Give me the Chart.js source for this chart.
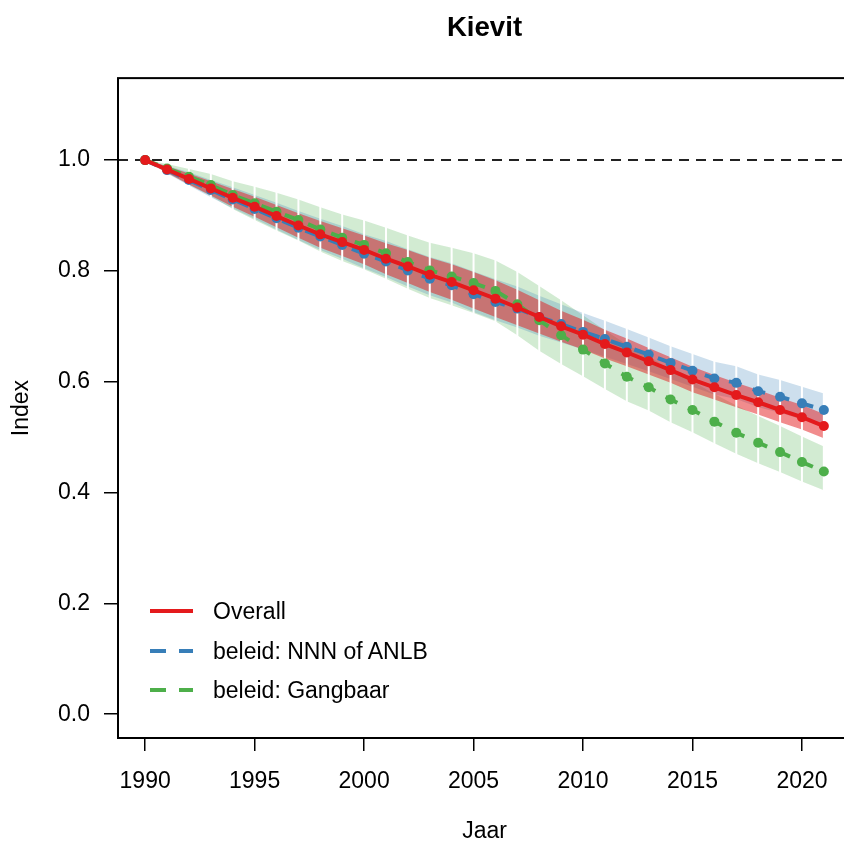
<!DOCTYPE html>
<html>
<head>
<meta charset="utf-8">
<script src="https://cdn.jsdelivr.net/npm/chart.js@4.4.0/dist/chart.umd.min.js"></script>
<style>
  html, body { margin: 0; padding: 0; background: #fff; }
  #wrap { position: relative; width: 844px; height: 845px; overflow: hidden; }
  #chart { position: absolute; left: 0; top: 0; }
  .lg { position: absolute; left: 0; width: 500px; height: 28px; font: 23px "Liberation Sans", Arial, sans-serif; color: #000; }
  .lg svg { position: absolute; left: 150px; top: 10px; }
  .lg span { position: absolute; left: 213px; top: 0; line-height: 28px; white-space: nowrap; }
</style>
</head>
<body>
<div id="wrap">
  <canvas id="chart" width="856" height="845"></canvas>
</div>
<script>
// jaren en indexwaarden
const years = [1990, 1991, 1992, 1993, 1994, 1995, 1996, 1997, 1998, 1999, 2000,
  2001, 2002, 2003, 2004, 2005, 2006, 2007, 2008, 2009, 2010,
  2011, 2012, 2013, 2014, 2015, 2016, 2017, 2018, 2019, 2020, 2021];

const overall = [1.000, 0.983, 0.966, 0.949, 0.932, 0.916, 0.899, 0.882, 0.866, 0.852, 0.838,
  0.822, 0.808, 0.793, 0.780, 0.765, 0.750, 0.734, 0.717, 0.700, 0.685,
  0.668, 0.653, 0.637, 0.621, 0.604, 0.590, 0.576, 0.563, 0.549, 0.536, 0.520];
const overallHi = [1.000, 0.989, 0.976, 0.962, 0.948, 0.934, 0.919, 0.904, 0.890, 0.877, 0.864,
  0.850, 0.838, 0.824, 0.812, 0.798, 0.783, 0.766, 0.747, 0.728, 0.712,
  0.694, 0.678, 0.661, 0.644, 0.627, 0.612, 0.598, 0.585, 0.571, 0.558, 0.542];
const overallLo = [1.000, 0.977, 0.956, 0.936, 0.916, 0.898, 0.879, 0.860, 0.842, 0.827, 0.812,
  0.794, 0.778, 0.762, 0.748, 0.732, 0.717, 0.702, 0.687, 0.672, 0.658,
  0.642, 0.628, 0.613, 0.598, 0.581, 0.568, 0.554, 0.541, 0.527, 0.514, 0.498];

const nnn = [1.000, 0.982, 0.964, 0.946, 0.929, 0.912, 0.895, 0.878, 0.862, 0.847, 0.831,
  0.817, 0.801, 0.786, 0.774, 0.758, 0.744, 0.732, 0.717, 0.704, 0.690,
  0.677, 0.663, 0.649, 0.634, 0.620, 0.606, 0.598, 0.583, 0.573, 0.561, 0.549];
const nnnHi = [1.000, 0.990, 0.978, 0.964, 0.951, 0.937, 0.923, 0.908, 0.894, 0.881, 0.866,
  0.854, 0.839, 0.825, 0.814, 0.799, 0.785, 0.772, 0.755, 0.740, 0.724,
  0.710, 0.695, 0.680, 0.664, 0.650, 0.636, 0.628, 0.613, 0.603, 0.591, 0.579];
const nnnLo = [1.000, 0.976, 0.954, 0.933, 0.913, 0.894, 0.875, 0.856, 0.838, 0.822, 0.805,
  0.789, 0.772, 0.756, 0.743, 0.726, 0.711, 0.698, 0.683, 0.671, 0.658,
  0.645, 0.632, 0.619, 0.605, 0.591, 0.577, 0.569, 0.554, 0.544, 0.532, 0.520];

const gangbaar = [1.000, 0.985, 0.970, 0.955, 0.937, 0.922, 0.907, 0.892, 0.875, 0.860, 0.847,
  0.832, 0.816, 0.801, 0.790, 0.778, 0.764, 0.740, 0.711, 0.684, 0.658,
  0.633, 0.609, 0.590, 0.568, 0.549, 0.528, 0.508, 0.490, 0.473, 0.455, 0.438];
const gangbaarHi = [1.000, 0.993, 0.984, 0.975, 0.962, 0.952, 0.941, 0.929, 0.915, 0.902, 0.891,
  0.878, 0.864, 0.851, 0.842, 0.832, 0.819, 0.798, 0.773, 0.747, 0.720,
  0.693, 0.667, 0.646, 0.622, 0.601, 0.578, 0.557, 0.538, 0.520, 0.501, 0.483];
const gangbaarLo = [1.000, 0.977, 0.956, 0.935, 0.912, 0.892, 0.873, 0.855, 0.835, 0.818, 0.803,
  0.786, 0.768, 0.751, 0.738, 0.724, 0.709, 0.684, 0.656, 0.632, 0.610,
  0.587, 0.565, 0.548, 0.527, 0.509, 0.489, 0.470, 0.453, 0.437, 0.420, 0.404];

const xTicks = [1990, 1995, 2000, 2005, 2010, 2015, 2020];
const yTicks = [0.0, 0.2, 0.4, 0.6, 0.8, 1.0];
const xMin = 1988.76, xMax = 2022.24;
const yMin = -0.043, yMax = 1.148;
const refValue = 1.0;

const legendLabels = ['Overall', 'beleid: NNN of ANLB', 'beleid: Gangbaar'];

const RED = '#E41A1C', BLUE = '#377EB8', GREEN = '#4DAF4A';
const FONT = '"Liberation Sans", Arial, sans-serif';

Chart.defaults.font.family = FONT;
Chart.defaults.color = '#000';

function pts(vals) {
    return years.map((y, i) => ({ x: y, y: vals[i] }));
}

function seriesLine(label, vals, color, dash) {
    return {
        label: label, data: pts(vals), borderColor: color, backgroundColor: color,
        borderWidth: 4, borderDash: dash, pointRadius: 5, pointBorderWidth: 0,
        pointBackgroundColor: color, fill: false, tension: 0
    };
}

function band(vals, fillColor, isUpper) {
    return {
        label: '', data: pts(vals), borderWidth: 0, pointRadius: 0,
        backgroundColor: fillColor, borderColor: 'rgba(0,0,0,0)',
        fill: isUpper ? '+1' : false, tension: 0
    };
}

// witte naden tussen de jaarblokken van de banden
const yearGaps = {
    id: 'yearGaps',
    afterDatasetDraw(chart, args) {
        if (args.index !== 4) return;
        const { ctx, scales: { x, y } } = chart;
        ctx.save();
        ctx.strokeStyle = '#fff';
        ctx.lineWidth = 2;
        years.forEach((yr, i) => {
            const top = Math.max(overallHi[i], nnnHi[i], gangbaarHi[i]);
            const bot = Math.min(overallLo[i], nnnLo[i], gangbaarLo[i]);
            const px = x.getPixelForValue(yr);
            ctx.beginPath();
            ctx.moveTo(px, y.getPixelForValue(top) - 2);
            ctx.lineTo(px, y.getPixelForValue(bot) + 2);
            ctx.stroke();
        });
        ctx.restore();
    }
};

const boxPlugin = {
    id: 'box',
    afterDraw(chart) {
        const { ctx, chartArea: a } = chart;
        ctx.save();
        ctx.strokeStyle = '#000';
        ctx.lineWidth = 2;
        ctx.strokeRect(a.left, a.top, a.right - a.left, a.bottom - a.top);
        ctx.restore();
    }
};

const ctx = document.getElementById('chart').getContext('2d');

const myChart = new Chart(ctx, {
    type: 'line',
    data: {
        datasets: [
            seriesLine('Overall', overall, RED, []),
            seriesLine('beleid: Gangbaar', gangbaar, GREEN, [13, 12]),
            seriesLine('beleid: NNN of ANLB', nnn, BLUE, [13, 12]),
            {
                label: 'ref', data: [{ x: xMin, y: refValue }, { x: xMax, y: refValue }],
                borderColor: '#222', borderWidth: 2, borderDash: [10, 7], pointRadius: 0, fill: false
            },
            band(overallHi, 'rgba(228,26,28,0.5)', true),
            band(overallLo, 'rgba(228,26,28,0.5)', false),
            band(nnnHi, 'rgba(55,126,184,0.25)', true),
            band(nnnLo, 'rgba(55,126,184,0.25)', false),
            band(gangbaarHi, 'rgba(77,175,74,0.25)', true),
            band(gangbaarLo, 'rgba(77,175,74,0.25)', false)
        ]
    },
    options: {
        responsive: false,
        animation: false,
        layout: { padding: { left: 0, right: 0, top: 0, bottom: 0 } },
        plugins: {
            legend: { display: false },
            tooltip: { enabled: false },
            title: {
                display: true,
                text: 'Kievit',
                fullSize: false,
                color: '#000',
                font: { size: 27.6, weight: 'bold' },
                padding: { top: 11.5, bottom: 33.5 }
            }
        },
        scales: {
            x: {
                type: 'linear',
                min: xMin, max: xMax,
                afterBuildTicks: (s) => { s.ticks = xTicks.map(v => ({ value: v })); },
                afterFit: (s) => { s.height = 107; },
                ticks: {
                    callback: (v) => String(v),
                    font: { size: 23 }, color: '#000', padding: 17, maxRotation: 0
                },
                grid: { display: true, drawOnChartArea: false, drawTicks: true, tickLength: 13, color: '#000', lineWidth: 1.5 },
                border: { display: false },
                title: { display: true, text: 'Jaar', font: { size: 23 }, color: '#000', padding: { top: 4, bottom: 0 } }
            },
            y: {
                min: yMin, max: yMax,
                afterBuildTicks: (s) => { s.ticks = yTicks.map(v => ({ value: v })); },
                afterFit: (s) => { s.width = 118; },
                ticks: {
                    callback: (v) => v.toFixed(1),
                    font: { size: 23 }, color: '#000', padding: 14
                },
                grid: { display: true, drawOnChartArea: false, drawTicks: true, tickLength: 14, color: '#000', lineWidth: 1.5 },
                border: { display: false },
                title: { display: true, text: 'Index', font: { size: 23 }, color: '#000', padding: { top: 8, bottom: 0 } }
            }
        }
    },
    plugins: [yearGaps, boxPlugin]
});

// legenda linksonder in het plotvlak
const legendColors = [RED, BLUE, GREEN];
const legendDash = ['', '16 13', '16 13'];
const legendRows = [611, 651, 690];
const wrap = document.getElementById('wrap');
legendLabels.forEach((txt, i) => {
    const row = document.createElement('div');
    row.className = 'lg';
    row.style.top = (legendRows[i] - 14) + 'px';
    row.innerHTML = '<svg width="44" height="8"><line x1="0" y1="4" x2="43" y2="4" stroke="' + legendColors[i] +
        '" stroke-width="4" stroke-dasharray="' + legendDash[i] + '"/></svg><span>' + txt + '</span>';
    wrap.appendChild(row);
});
</script>
</body>
</html>
